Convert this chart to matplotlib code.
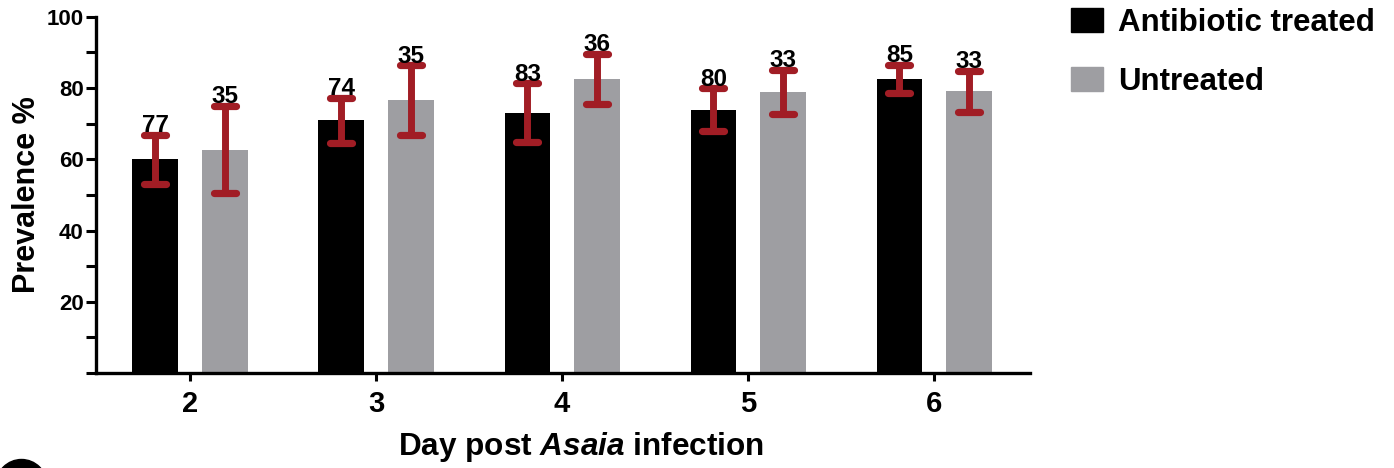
import numpy as np
import matplotlib.pyplot as plt
from matplotlib.patches import Patch, Ellipse

plt.rcParams['font.family'] = ['Liberation Sans', 'DejaVu Sans']
plt.rcParams['font.weight'] = 'bold'
plt.rcParams['mathtext.fontset'] = 'custom'
plt.rcParams['mathtext.it'] = 'Liberation Sans:italic:bold'

days = [2, 3, 4, 5, 6]
antibiotic_mean = [60.0, 70.9, 73.1, 73.9, 82.6]
antibiotic_err = [6.8, 6.4, 8.2, 6.0, 4.0]
antibiotic_n = [77, 74, 83, 80, 85]
untreated_mean = [62.7, 76.6, 82.6, 78.9, 79.1]
untreated_err = [12.3, 9.8, 7.0, 6.2, 5.7]
untreated_n = [35, 35, 36, 33, 33]

black = '#000000'
grey = '#9e9ea2'
red = '#a11d25'

fig = plt.figure(figsize=(13.94, 4.68), dpi=100)
ax = fig.add_axes([0.0689, 0.203, 0.670, 0.761])

x = np.array(days, dtype=float)
width = 0.245
offset = 0.187

series = [
    (x - offset, antibiotic_mean, antibiotic_err, antibiotic_n, black),
    (x + offset, untreated_mean, untreated_err, untreated_n, grey),
]
cap = 0.059
for pos, mean, err, n, color in series:
    mean = np.array(mean)
    err = np.array(err)
    ax.bar(pos, mean, width=width, color=color, zorder=2)
    ax.vlines(pos, mean - err, mean + err, color=red, lw=5, zorder=3)
    for y in (mean - err, mean + err):
        ax.hlines(y, pos - cap, pos + cap, color=red, lw=5.2,
                  capstyle='round', zorder=3)
    for xp, top, label in zip(pos, mean + err, n):
        ax.annotate(str(label), (xp, top), xytext=(0, 2),
                    textcoords='offset points', ha='center', va='baseline',
                    fontsize=17.5, fontweight='bold', zorder=4)

ax.set_xlim(1.495, 6.515)
ax.set_ylim(0, 100)
ax.set_xticks(days)
ax.set_xticklabels([str(d) for d in days], fontsize=21, fontweight='bold')
ax.set_yticks(np.arange(0, 101, 10))
ax.set_yticklabels(['' if v % 20 or v == 0 else str(v)
                    for v in range(0, 101, 10)],
                   fontsize=16, fontweight='bold')
ax.tick_params(axis='y', length=7, width=2.2, pad=2)
ax.tick_params(axis='x', length=6, width=2.2, pad=6)

for side in ('top', 'right'):
    ax.spines[side].set_visible(False)
for side in ('left', 'bottom'):
    ax.spines[side].set_linewidth(2.4)

ax.set_ylabel('Prevalence %', fontsize=22, fontweight='bold')
ax.yaxis.set_label_coords(-0.058, 0.5)
ax.set_xlabel(r'Day post $\mathit{Asaia}$ infection', fontsize=22.7,
              fontweight='bold')
ax.xaxis.set_label_coords(0.519, -0.16)

handles = [Patch(color=black, label='Antibiotic treated'),
           Patch(color=grey, label='Untreated')]
ax.legend(handles=handles, loc='upper left',
          bbox_to_anchor=(1071 / 1394, 1 - 8 / 468),
          bbox_transform=fig.transFigure, frameon=False,
          prop={'size': 22.5, 'weight': 'bold'},
          handlelength=1.03, handleheight=0.8, handletextpad=0.48,
          labelspacing=0.92, borderpad=0, borderaxespad=0)

# panel marker in the lower-left corner
fig.patches.append(Ellipse((21.5 / 1394, 1 - 485 / 468), 51 / 1394, 51 / 468,
                           color='black', transform=fig.transFigure))

fig.savefig('out.png', dpi=100)
